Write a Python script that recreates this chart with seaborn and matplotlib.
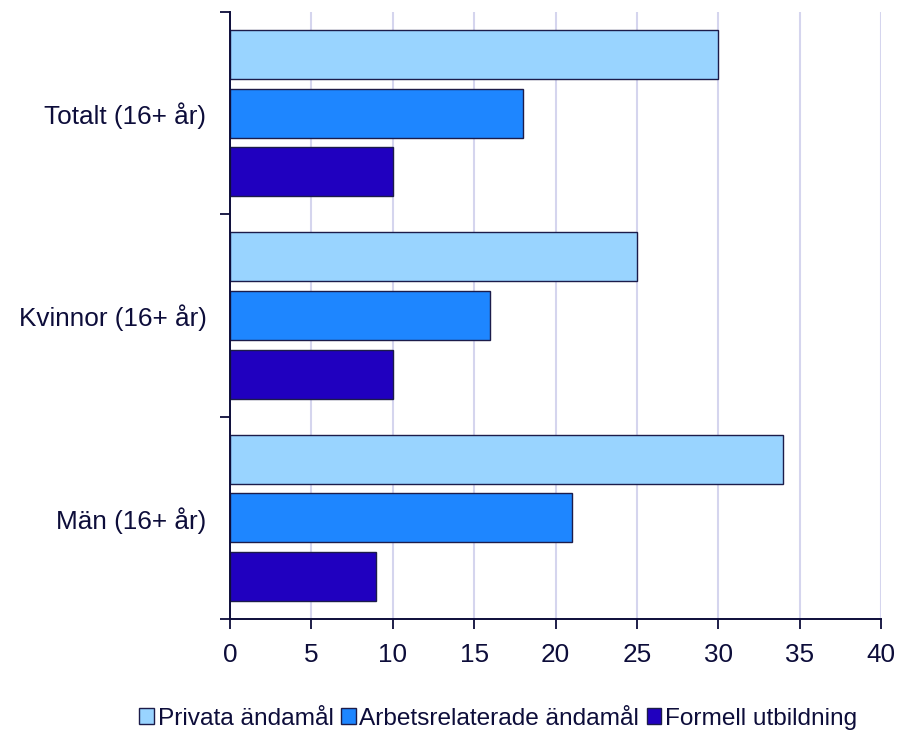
import numpy as np
import pandas as pd
import matplotlib
matplotlib.use("Agg")
import matplotlib.pyplot as plt
from matplotlib.patches import Patch
from matplotlib.ticker import FixedLocator
import seaborn as sns

# Data
groups = ["Totalt (16+ år)", "Kvinnor (16+ år)", "Män (16+ år)"]
series = ["Privata ändamål", "Arbetsrelaterade ändamål", "Formell utbildning"]
privata = [30, 25, 34]
arbets = [18, 16, 21]
formell = [10, 10, 9]
x_ticks = [0, 5, 10, 15, 20, 25, 30, 35, 40]

colors = ["#99D4FF", "#1E86FF", "#2000BF"]
edge = "#1c1c4a"
text_col = "#0d0d3a"
grid_col = "#d5d5ee"
fs = 18.8

df = pd.DataFrame({
    "grupp": np.repeat(groups, len(series)),
    "serie": series * len(groups),
    "andel": [v for trio in zip(privata, arbets, formell) for v in trio],
})

sns.set_theme(style="white")
plt.rcParams["font.family"] = ["Liberation Sans", "DejaVu Sans"]

fig = plt.figure(figsize=(9.01, 7.37), dpi=100)
ax = fig.add_axes([0.2553, 0.1601, 0.7225, 0.8236])

sns.barplot(
    data=df, y="grupp", x="andel", hue="serie",
    order=groups, hue_order=series, palette=colors, saturation=1,
    orient="h", width=0.87, gap=0.16, errorbar=None,
    edgecolor=edge, linewidth=1.0, legend=False, ax=ax, zorder=3,
)

ax.set_xlim(0, 40)
ax.set_ylim(2.5, -0.5)
ax.set_xlabel("")
ax.set_ylabel("")

# x axis: ticks and vertical grid
ax.set_xticks(x_ticks)
ax.set_xticklabels([str(t) for t in x_ticks])
ax.xaxis.grid(True, color=grid_col, linewidth=1.5, zorder=0)
ax.yaxis.grid(False)
ax.set_axisbelow(True)

# y axis: labels at group centres, tick marks at group boundaries
ax.set_yticks(range(len(groups)))
ax.set_yticklabels(groups)
ax.yaxis.set_minor_locator(FixedLocator([-0.5, 0.5, 1.5, 2.5]))
ax.tick_params(axis="y", which="major", length=0, pad=17,
               labelsize=fs, labelcolor=text_col)
ax.tick_params(axis="y", which="minor", left=True, length=7,
               width=1.3, color=text_col, direction="out")
ax.tick_params(axis="x", which="major", bottom=True, length=7, width=1.3,
               color=text_col, direction="out", pad=10,
               labelsize=fs, labelcolor=text_col)

for side in ["top", "right"]:
    ax.spines[side].set_visible(False)
for side in ["left", "bottom"]:
    ax.spines[side].set_color(text_col)
    ax.spines[side].set_linewidth(1.4)
    ax.spines[side].set_zorder(4)

handles = [Patch(facecolor=c, edgecolor=edge, linewidth=1.0) for c in colors]
fig.legend(
    handles, series, loc="center", bbox_to_anchor=(0.553, 0.025),
    ncol=3, frameon=False, fontsize=17.6, labelcolor=text_col,
    handlelength=0.6, handleheight=0.6, handletextpad=0.15,
    columnspacing=0.3, borderaxespad=0,
)

fig.savefig("out.png", dpi=100)
